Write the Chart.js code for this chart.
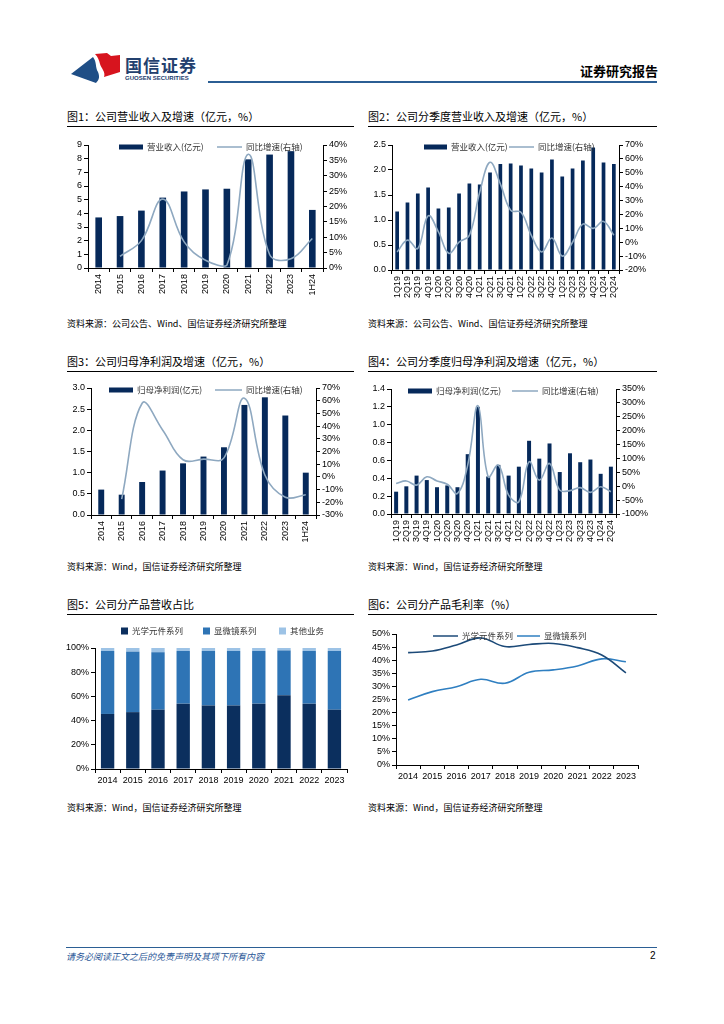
<!DOCTYPE html>
<html>
<head>
<meta charset="utf-8">
<script src="https://cdn.jsdelivr.net/npm/chart.js@4.4.1/dist/chart.umd.min.js"></script>
<style>
  body { margin:0; background:#fff; }
  #page { position:relative; width:724px; height:1024px; overflow:hidden; font-family:"Noto Sans CJK SC", sans-serif; }
  .abs { position:absolute; white-space:nowrap; }
  .title { font-size:11px; color:#000; line-height:13px; }
  .rule { position:absolute; height:1px; background:#000; }
  .src { font-size:9px; color:#000; line-height:11px; }
  canvas { position:absolute; }
</style>
</head>
<body>
<div id="page">
  <svg class="abs" style="left:0;top:0" width="130" height="90">
    <path d="M71,74 L93,57 C97,62 95,67 98,72 C100,77 99,80 96,83 Z" fill="#1f4e86"/>
    <path d="M95,54 L107,53 L111,56 L120,55 L120,72 L104,77 C106,72 101,68 100,64 C99,60 98,57 95,54 Z" fill="#d7141e"/>
  </svg>
  <div class="abs" style="left:125px;top:56px;font-size:17px;line-height:17px;font-weight:bold;color:#23406e;letter-spacing:1px;">国信证券</div>
  <div class="abs" style="left:125px;top:75px;font-size:6px;line-height:7px;font-weight:bold;color:#23406e;font-family:'Liberation Sans',sans-serif;">GUOSEN SECURITIES</div>
  <div class="abs" style="left:580px;top:61px;font-size:13px;font-weight:bold;color:#000;">证券研究报告</div>
  <div class="rule" style="left:208px;top:81px;width:449px;height:2px;background:#2b5e94;"></div>

  <div class="abs title" style="left:67px;top:110px;">图1：公司营业收入及增速（亿元，%）</div>
  <div class="rule" style="left:67px;top:126px;width:287px;"></div>
  <div class="abs title" style="left:368px;top:110px;">图2：公司分季度营业收入及增速（亿元，%）</div>
  <div class="rule" style="left:368px;top:126px;width:289px;"></div>
  <canvas id="c1" width="300" height="170" style="left:62px;top:135px;width:300px;height:170px;"></canvas>
  <canvas id="c2" width="300" height="170" style="left:362px;top:135px;width:300px;height:170px;"></canvas>
  <div class="abs src" style="left:67px;top:318px;">资料来源：公司公告、Wind、国信证券经济研究所整理</div>
  <div class="abs src" style="left:368px;top:318px;">资料来源：公司公告、Wind、国信证券经济研究所整理</div>

  <div class="abs title" style="left:67px;top:355px;">图3：公司归母净利润及增速（亿元，%）</div>
  <div class="rule" style="left:67px;top:371px;width:287px;"></div>
  <div class="abs title" style="left:368px;top:355px;">图4：公司分季度归母净利润及增速（亿元，%）</div>
  <div class="rule" style="left:368px;top:371px;width:289px;"></div>
  <canvas id="c3" width="300" height="170" style="left:62px;top:378px;width:300px;height:170px;"></canvas>
  <canvas id="c4" width="300" height="170" style="left:362px;top:378px;width:300px;height:170px;"></canvas>
  <div class="abs src" style="left:67px;top:561px;">资料来源：Wind，国信证券经济研究所整理</div>
  <div class="abs src" style="left:368px;top:561px;">资料来源：Wind，国信证券经济研究所整理</div>

  <div class="abs title" style="left:67px;top:598px;">图5：公司分产品营收占比</div>
  <div class="rule" style="left:67px;top:614px;width:287px;"></div>
  <div class="abs title" style="left:368px;top:598px;">图6：公司分产品毛利率（%）</div>
  <div class="rule" style="left:368px;top:614px;width:289px;"></div>
  <canvas id="c5" width="300" height="175" style="left:62px;top:618px;width:300px;height:175px;"></canvas>
  <canvas id="c6" width="300" height="175" style="left:362px;top:618px;width:300px;height:175px;"></canvas>
  <div class="abs src" style="left:67px;top:802px;">资料来源：Wind，国信证券经济研究所整理</div>
  <div class="abs src" style="left:368px;top:802px;">资料来源：Wind，国信证券经济研究所整理</div>

  <div class="rule" style="left:66px;top:947px;width:591px;background:#2b5e94;"></div>
  <div class="abs" style="left:66px;top:950px;font-size:9px;font-style:italic;color:#2b5797;">请务必阅读正文之后的免责声明及其项下所有内容</div>
  <div class="abs" style="left:650px;top:950px;font-size:10px;color:#000;font-family:'Liberation Sans',sans-serif;">2</div>
</div>
<script>
// ---- data ----
const years = ['2014','2015','2016','2017','2018','2019','2020','2021','2022','2023','1H24'];
const revenue = [3.7, 3.8, 4.2, 5.15, 5.6, 5.75, 5.8, 7.95, 8.3, 8.55, 4.25];
const revenueYoY = [null, 3.8, 8.9, 22.4, 8.5, 2.5, 0.9, 37, 4.4, 3, 9.6];

const quarters = ['1Q19','2Q19','3Q19','4Q19','1Q20','2Q20','3Q20','4Q20','1Q21','2Q21','3Q21','4Q21',
                  '1Q22','2Q22','3Q22','4Q22','1Q23','2Q23','3Q23','4Q23','1Q24','2Q24'];
const qRevenue = [1.17, 1.35, 1.53, 1.65, 1.23, 1.25, 1.53, 1.73, 1.71, 1.95, 2.12, 2.13,
                  2.09, 2.03, 1.95, 2.21, 1.87, 2.03, 2.19, 2.45, 2.15, 2.12];
const qRevenueYoY = [-7, 1.5, -4.5, 19, 7.5, -8, 0, 5, 36, 57.5, 42, 23,
                     21.5, 5, -7, 3, -10, 0, 13, 10, 15, 5];

const profit = [0.6, 0.48, 0.78, 1.05, 1.22, 1.38, 1.6, 2.6, 2.78, 2.35, 1.0];
const profitYoY = [null, -17.5, 58, 37, 13.5, 14, 15, 62, 1.5, -16, -14];

const qProfit = [0.25, 0.31, 0.43, 0.38, 0.30, 0.32, 0.30, 0.67, 1.2, 0.42, 0.55, 0.43,
                 0.53, 0.82, 0.62, 0.79, 0.47, 0.68, 0.58, 0.61, 0.45, 0.53];
const qProfitYoY = [10, 19, 4, 34, 19, 7, -26, 76, 290, 34, 76, -32,
                    -56, 88, 22, 82, -14, -16, -5, -22, -2, -20];

const mixYears = ['2014','2015','2016','2017','2018','2019','2020','2021','2022','2023'];
const shareOptics = [45.5, 47, 49, 54, 52.5, 52.5, 54, 61, 54, 49];
const shareMicroscope = [52, 50, 47.5, 43.5, 45, 45, 43.5, 37, 43.5, 48.5];
const shareOther = [2.5, 3, 3.5, 2.5, 2.5, 2.5, 2.5, 2, 2.5, 2.5];

const marginOptics = [42.9, 43.5, 45.8, 48.5, 45.2, 46, 46.4, 44.8, 42, 35.2];
const marginMicroscope = [24.8, 28, 29.9, 32.7, 31.2, 35.4, 36.3, 37.8, 40.5, 39.4];

const navy = '#06295a';
const growthColor = '#8ea8c0';
const tickFont = { family: "'Liberation Sans', Arial, sans-serif", size: 9 };

// legend drawn inside the plot like the original
const innerLegend = {
  id: 'innerLegend',
  afterDraw(chart, args, opts) {
    if (!opts || !opts.items) return;
    const ctx = chart.ctx;
    ctx.save();
    ctx.font = '8.5px "Noto Sans CJK SC"';
    ctx.textBaseline = 'middle';
    chart.data.datasets.forEach((ds, i) => {
      const it = opts.items[i];
      const y = opts.y;
      if (it.kind === 'line') {
        ctx.strokeStyle = ds.borderColor;
        ctx.lineWidth = 1.5;
        ctx.beginPath();
        ctx.moveTo(it.x, y);
        ctx.lineTo(it.x + it.w, y);
        ctx.stroke();
      } else {
        ctx.fillStyle = ds.backgroundColor;
        ctx.fillRect(it.x, y - it.h / 2, it.w, it.h);
      }
      ctx.fillStyle = '#333';
      ctx.fillText(ds.label, it.x + it.w + 4, y);
    });
    ctx.restore();
  }
};
Chart.register(innerLegend);

function axis(extra) {
  return Object.assign({
    grid: { drawOnChartArea: false, tickLength: 4, color: '#000' },
    border: { color: '#000', width: 1 },
  }, extra);
}

function comboChart(id, labels, bars, growth, o) {
  new Chart(document.getElementById(id), {
    type: 'bar',
    data: {
      labels: labels,
      datasets: [{
        label: o.barLabel,
        data: bars,
        backgroundColor: navy,
        categoryPercentage: o.catPct,
        barPercentage: 1,
        yAxisID: 'y',
        order: 1
      }, {
        type: 'line',
        label: '同比增速(右轴)',
        data: growth,
        borderColor: growthColor,
        borderWidth: 1.6,
        pointRadius: 0,
        tension: 0.4,
        yAxisID: 'y1',
        order: 0
      }]
    },
    options: {
      responsive: false,
      animation: false,
      layout: { padding: { top: o.padTop, left: 0, right: 0, bottom: 0 } },
      plugins: {
        legend: { display: false },
        tooltip: { enabled: false },
        innerLegend: o.legend
      },
      scales: {
        x: axis({
          ticks: { font: tickFont, color: '#000', minRotation: 90, maxRotation: 90, autoSkip: false, padding: 2 },
          afterFit: s => { s.height = o.xH; }
        }),
        y: axis({
          position: 'left', min: 0, max: o.yMax,
          ticks: { font: tickFont, color: '#000', stepSize: o.yStep, padding: 2, autoSkip: false,
                   callback: v => v.toFixed(o.yDec) },
          afterFit: s => { s.width = o.leftW; }
        }),
        y1: axis({
          position: 'right', min: o.rMin, max: o.rMax,
          ticks: { font: tickFont, color: '#000', stepSize: o.rStep, padding: 2, autoSkip: false,
                   callback: v => Math.round(v) + '%' },
          afterFit: s => { s.width = o.rightW; }
        })
      }
    }
  });
}

comboChart('c1', years, revenue, revenueYoY, {
  barLabel: '营业收入(亿元)', catPct: 0.31, padTop: 10, xH: 37, leftW: 26, rightW: 39,
  yMax: 9, yStep: 1, yDec: 0, rMin: 0, rMax: 40, rStep: 5,
  legend: { y: 12, items: [{ x: 57, w: 24, h: 5 }, { kind: 'line', x: 155, w: 25 }] }
});
comboChart('c2', quarters, qRevenue, qRevenueYoY, {
  barLabel: '营业收入(亿元)', catPct: 0.36, padTop: 10, xH: 35, leftW: 30, rightW: 43,
  yMax: 2.5, yStep: 0.5, yDec: 1, rMin: -20, rMax: 70, rStep: 10,
  legend: { y: 12, items: [{ x: 62, w: 23, h: 5 }, { kind: 'line', x: 147, w: 25 }] }
});
comboChart('c3', years, profit, profitYoY, {
  barLabel: '归母净利润(亿元)', catPct: 0.29, padTop: 10, xH: 33, leftW: 29, rightW: 46,
  yMax: 3, yStep: 0.5, yDec: 1, rMin: -30, rMax: 70, rStep: 10,
  legend: { y: 12, items: [{ x: 47, w: 24, h: 5 }, { kind: 'line', x: 153, w: 27 }] }
});
comboChart('c4', quarters, qProfit, qProfitYoY, {
  barLabel: '归母净利润(亿元)', catPct: 0.39, padTop: 11, xH: 34, leftW: 29, rightW: 46,
  yMax: 1.4, yStep: 0.2, yDec: 1, rMin: -100, rMax: 350, rStep: 50,
  legend: { y: 13, items: [{ x: 46, w: 24, h: 5 }, { kind: 'line', x: 150, w: 26 }] }
});

// 图5 stacked share
new Chart(document.getElementById('c5'), {
  type: 'bar',
  data: {
    labels: mixYears,
    datasets: [
      { label: '光学元件系列', data: shareOptics, backgroundColor: '#0b2f5e' },
      { label: '显微镜系列', data: shareMicroscope, backgroundColor: '#2e74b5' },
      { label: '其他业务', data: shareOther, backgroundColor: '#9dc3e6' }
    ].map(d => Object.assign(d, { categoryPercentage: 0.53, barPercentage: 1 }))
  },
  options: {
    responsive: false,
    animation: false,
    layout: { padding: { top: 30, left: 0, right: 15, bottom: 0 } },
    plugins: {
      legend: { display: false },
      tooltip: { enabled: false },
      innerLegend: { y: 13, items: [{ x: 59, w: 7, h: 7 }, { x: 141, w: 7, h: 7 }, { x: 217, w: 7, h: 7 }] }
    },
    scales: {
      x: axis({
        stacked: true,
        ticks: { font: tickFont, color: '#000', maxRotation: 0, autoSkip: false, padding: 2 },
        afterFit: s => { s.height = 24; }
      }),
      y: axis({
        stacked: true, min: 0, max: 100,
        ticks: { font: tickFont, color: '#000', stepSize: 20, padding: 2, autoSkip: false, callback: v => v + '%' },
        afterFit: s => { s.width = 33; }
      })
    }
  }
});

// 图6 gross margin
new Chart(document.getElementById('c6'), {
  type: 'line',
  data: {
    labels: mixYears,
    datasets: [
      { label: '光学元件系列', data: marginOptics, borderColor: '#1c4a78' },
      { label: '显微镜系列', data: marginMicroscope, borderColor: '#2f7fc1' }
    ].map(d => Object.assign(d, { borderWidth: 1.6, pointRadius: 0, tension: 0.4 }))
  },
  options: {
    responsive: false,
    animation: false,
    layout: { padding: { top: 16, left: 0, right: 24, bottom: 0 } },
    plugins: {
      legend: { display: false },
      tooltip: { enabled: false },
      innerLegend: { y: 18, items: [{ kind: 'line', x: 71, w: 25 }, { kind: 'line', x: 155, w: 23 }] }
    },
    scales: {
      x: axis({
        offset: true,
        grid: { drawOnChartArea: false, tickLength: 4, color: '#000', offset: true },
        ticks: { font: tickFont, color: '#000', maxRotation: 0, autoSkip: false, padding: 2 },
        afterFit: s => { s.height = 28; }
      }),
      y: axis({
        min: 0, max: 50,
        ticks: { font: tickFont, color: '#000', stepSize: 5, padding: 2, autoSkip: false, callback: v => v + '%' },
        afterFit: s => { s.width = 34; }
      })
    }
  }
});
</script>
</body>
</html>
